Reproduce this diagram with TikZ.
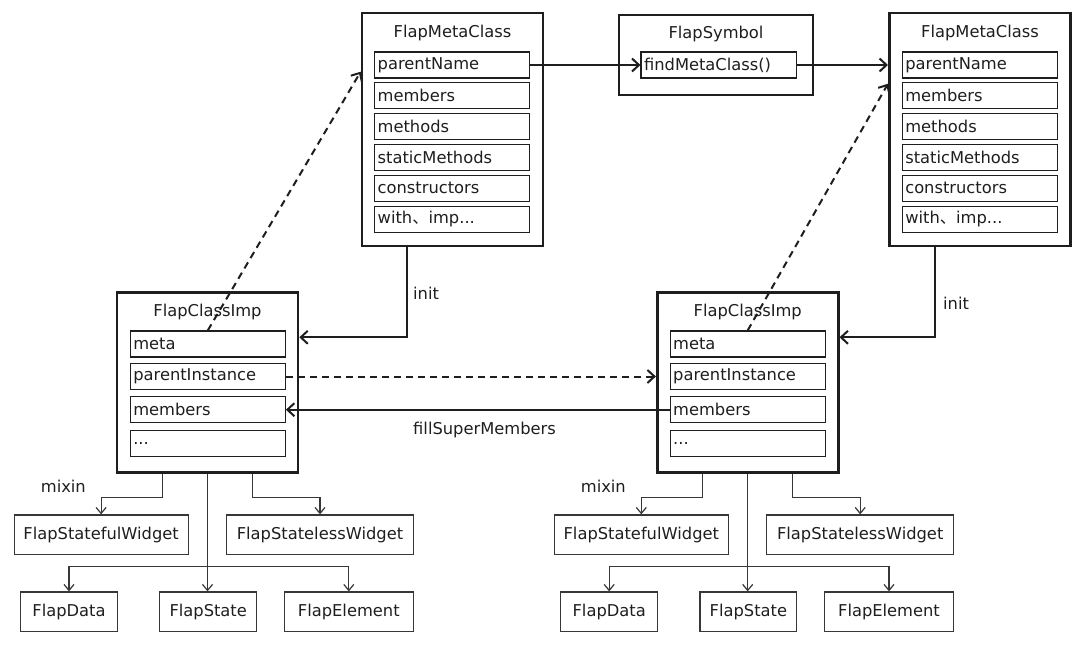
\documentclass[tikz,border=0pt]{standalone}
\usepackage{fontspec}
\setmainfont{DejaVu Sans}
\newfontfamily\cjk{Noto Sans CJK SC}
\usetikzlibrary{arrows.meta,calc}
\definecolor{ink}{RGB}{30,30,30}
\definecolor{thin}{RGB}{55,55,55}
\begin{document}
\begin{tikzpicture}[x=1pt,y=-1pt,
  txt/.style={font=\fontsize{16.3pt}{19pt}\selectfont, text=ink},
  outer/.style={draw=ink, line width=2.6pt, fill=white, inner sep=0pt},
  titletext/.style={txt, inner sep=0pt},
  field/.style={txt, draw=ink, line width=1.2pt, minimum height=26pt, text width=149pt, inner xsep=3pt, inner ysep=0pt, align=left},
  leaf/.style={txt, draw=thin, line width=1.2pt, minimum height=39.5pt, inner sep=0pt},
  lbl/.style={txt, inner sep=0pt, anchor=west},
  thick arrow/.style={draw=ink, line width=2pt, -{Straight Barb[length=7pt,width=13pt,line width=2pt]}},
  dash arrow/.style={draw=ink, line width=2pt, dash pattern=on 7pt off 5pt, -{Straight Barb[length=7pt,width=13pt,line width=2pt]}},
  thin arrow/.style={draw=thin, line width=1.2pt, -{Straight Barb[length=6pt,width=10pt,line width=1.2pt]}},
  thin line/.style={draw=thin, line width=1.2pt}]
\useasboundingbox (0,0) rectangle (1080,647);

% ---------- left FlapMetaClass ----------
\node[outer, minimum width=181pt, minimum height=233pt] (lmeta) at (452.5,129.5) {};
\node[titletext] (lmetat) at (452.5,33) {FlapMetaClass};
\node[field] (lmpn) at (452.2,65) {parentName};
\node[field] (lmmem) at (452.2,95.9) {members};
\node[field] (lmmet) at (452.2,126.7) {methods};
\node[field] (lmsm) at (452.2,157.5) {staticMethods};
\node[field] (lmcon) at (452.2,188.3) {constructors};
\node[field] (lmwith) at (452.2,219.2) {with{\cjk 、}imp...};

% ---------- FlapSymbol ----------
\node[outer, minimum width=193.7pt, minimum height=80pt] (sym) at (716,55) {};
\node[titletext] (symt) at (716,34) {FlapSymbol};
\node[field, text width=149.3pt] (fmc) at (718.7,65) {findMetaClass()};

% ---------- right FlapMetaClass ----------
\node[outer, minimum width=181.4pt, minimum height=233pt] (rmeta) at (980,129.5) {};
\node[titletext] (rmetat) at (980,33) {FlapMetaClass};
\node[field] (rmpn) at (979.8,65) {parentName};
\node[field] (rmmem) at (979.8,95.9) {members};
\node[field] (rmmet) at (979.8,126.7) {methods};
\node[field] (rmsm) at (979.8,157.5) {staticMethods};
\node[field] (rmcon) at (979.8,188.3) {constructors};
\node[field] (rmwith) at (979.8,219.2) {with{\cjk 、}imp...};

% ---------- left FlapClassImp ----------
\node[outer, minimum width=181pt, minimum height=180pt] (limp) at (207.5,382.7) {};
\node[titletext] (limpt) at (207.5,312) {FlapClassImp};
\node[field] (lmeta2) at (207.8,344) {meta};
\node[field] (lpi) at (207.8,376.5) {parentInstance};
\node[field] (lmem) at (207.8,409.7) {members};
\node[field] (ldots) at (207.8,443.2) {...};

% ---------- right FlapClassImp ----------
\node[outer, minimum width=181pt, minimum height=180pt] (rimp) at (747.7,382.7) {};
\node[titletext] (rimpt) at (747.7,312) {FlapClassImp};
\node[field] (rmeta2) at (747.7,344) {meta};
\node[field] (rpi) at (747.7,376.5) {parentInstance};
\node[field] (rmem) at (747.7,409.7) {members};
\node[field] (rdots) at (747.7,443.2) {...};

% ---------- left leaves ----------
\node[leaf, minimum width=174pt] (lsf) at (101.1,534.7) {FlapStatefulWidget};
\node[leaf, minimum width=187pt] (lsl) at (320,534.7) {FlapStatelessWidget};
\node[leaf, minimum width=97pt] (ldata) at (69,611.7) {FlapData};
\node[leaf, minimum width=96.7pt] (lst) at (208.2,611.7) {FlapState};
\node[leaf, minimum width=129.4pt] (lel) at (348.8,611.7) {FlapElement};

% ---------- right leaves ----------
\node[leaf, minimum width=174pt] (rsf) at (641.3,534.7) {FlapStatefulWidget};
\node[leaf, minimum width=187pt] (rsl) at (860.2,534.7) {FlapStatelessWidget};
\node[leaf, minimum width=97pt] (rdata) at (609.2,611.7) {FlapData};
\node[leaf, minimum width=96.7pt] (rst) at (748.4,611.7) {FlapState};
\node[leaf, minimum width=129.4pt] (rel) at (889,611.7) {FlapElement};

% ---------- labels ----------
\node[lbl] (linitl) at (413,293) {init};
\node[lbl] (rinitl) at (943,303) {init};
\node[lbl] (fsm) at (413,430) {fillSuperMembers};
\node[lbl] (lmix) at (40.7,486) {mixin};
\node[lbl] (rmix) at (580.7,486) {mixin};

% ---------- helper coordinates ----------
\coordinate (linit) at (407,337.3);
\coordinate (rinit) at (935,337.3);
\coordinate (ltip) at ([yshift=-60pt]lmeta.north west);
\coordinate (rtip) at ([yshift=-72pt]rmeta.north west);
\coordinate (lh) at ([yshift=25pt]lst.north);
\coordinate (rh) at ([yshift=25pt]rst.north);

% ---------- top connectors ----------
\draw[thick arrow] (lmpn.east) -- (fmc.west);
\draw[thick arrow] (fmc.east) -- (rmeta.west |- fmc.east);

% ---------- init ----------
\draw[thick arrow] (lmeta.south -| linit) |- (limp.east |- linit);
\draw[thick arrow] (rmeta.south -| rinit) |- (rimp.east |- rinit);

% ---------- dashed ----------
\draw[dash arrow] (lmeta2.north) -- (ltip);
\draw[dash arrow] (rmeta2.north) -- (rtip);
\draw[dash arrow] (lpi.east) -- (rimp.west |- lpi.east);

% ---------- fillSuperMembers ----------
\draw[thick arrow] (rmem.west) -- (lmem.east);

% ---------- left branches ----------
\draw[thin arrow] ([xshift=-45pt]limp.south) |- ([yshift=16.5pt]lsf.north) -- (lsf.north);
\draw[thin arrow] ([xshift=45pt]limp.south) |- ([yshift=16.5pt]lsl.north) -- (lsl.north);
\draw[thin arrow] (limp.south) -- (limp.south |- lst.north);
\draw[thin arrow] (limp.south |- lh) -| (ldata.north);
\draw[thin arrow] (limp.south |- lh) -| (lel.north);

% ---------- right branches ----------
\draw[thin arrow] ([xshift=-45pt]rimp.south) |- ([yshift=16.5pt]rsf.north) -- (rsf.north);
\draw[thin arrow] ([xshift=45pt]rimp.south) |- ([yshift=16.5pt]rsl.north) -- (rsl.north);
\draw[thin arrow] (rimp.south) -- (rimp.south |- rst.north);
\draw[thin arrow] (rimp.south |- rh) -| (rdata.north);
\draw[thin arrow] (rimp.south |- rh) -| (rel.north);
\end{tikzpicture}
\end{document}
